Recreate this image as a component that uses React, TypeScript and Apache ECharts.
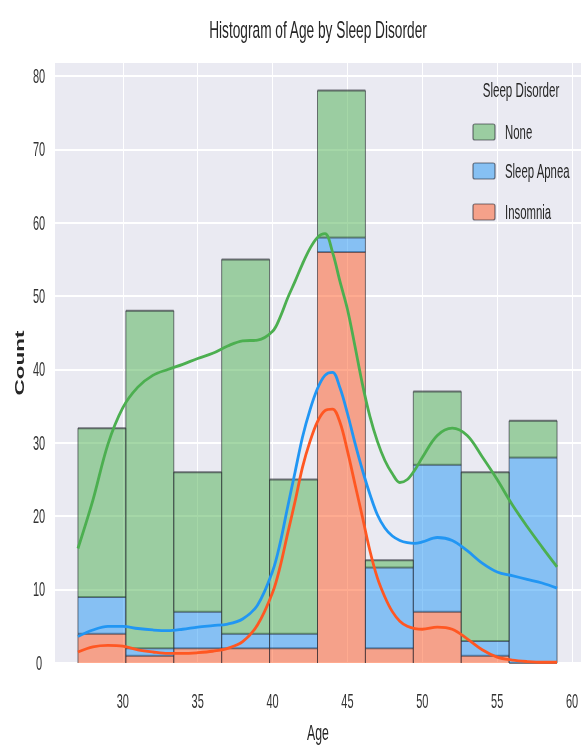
import React, { useEffect, useRef } from "react";
import * as echarts from "echarts";

// ---- data ----
const BIN_EDGES = [27, 30.2, 33.4, 36.6, 39.8, 43, 46.2, 49.4, 52.6, 55.8, 59];
const INSOMNIA = [4, 1, 2, 2, 2, 56, 2, 7, 1, 0];
const SLEEP_APNEA = [5, 1, 5, 2, 2, 2, 11, 20, 2, 28];
const NONE = [23, 46, 19, 51, 21, 20, 1, 10, 23, 5];

const KDE_AGES = [27, 28, 29, 30, 31, 32, 33, 34, 35, 36, 37, 38, 39, 40, 40.5, 41, 41.5, 42, 42.5, 43, 43.5, 44, 44.5, 45, 45.5, 46, 46.5, 47, 47.5, 48, 48.5, 49, 49.5, 50, 51, 52, 53, 54, 55, 56, 57, 58, 59];
// stacked KDE curves (cumulative, as drawn)
const KDE_NONE_TOP = [15.6, 22.2, 29.8, 34.8, 37.6, 39.2, 40.0, 40.7, 41.5, 42.2, 43.2, 43.9, 44.0, 45.2, 47.1, 49.7, 52.0, 54.4, 56.5, 58.0, 58.5, 56.0, 52.0, 48.2, 43.2, 38.0, 33.6, 30.2, 27.6, 25.8, 24.6, 25.0, 26.3, 28.0, 31.0, 32.0, 31.0, 28.1, 25.0, 21.6, 18.6, 15.8, 13.1];
const KDE_APNEA_TOP = [3.6, 4.5, 5.0, 5.0, 4.7, 4.5, 4.4, 4.6, 4.9, 5.1, 5.3, 6.0, 7.9, 12.5, 16.3, 21.2, 26.0, 30.8, 34.5, 37.4, 39.2, 39.6, 37.5, 34.0, 30.0, 26.3, 23.0, 20.2, 18.4, 17.3, 16.7, 16.4, 16.3, 16.5, 17.1, 16.7, 15.3, 13.6, 12.4, 11.9, 11.4, 10.9, 10.2];
const KDE_INSOMNIA = [1.5, 2.2, 2.4, 2.3, 1.8, 1.5, 1.3, 1.3, 1.4, 1.6, 2.0, 2.9, 5.2, 9.6, 13.1, 17.6, 22.0, 26.7, 30.2, 32.9, 34.4, 34.6, 32.8, 28.9, 24.4, 19.9, 15.3, 11.6, 9.0, 7.0, 5.7, 5.0, 4.7, 4.6, 4.9, 4.6, 3.3, 1.8, 0.8, 0.4, 0.2, 0.1, 0.1];

const X_TICKS = [30, 35, 40, 45, 50, 55, 60];
const Y_TICKS = [0, 10, 20, 30, 40, 50, 60, 70, 80];
const LEGEND_LABELS = ["None", "Sleep Apnea", "Insomnia"];

const TITLE = "Histogram of Age by Sleep Disorder";
const X_NAME = "Age";
const Y_NAME = "Count";
const LEGEND_TITLE = "Sleep Disorder";

// ---- styles ----
const FILL_NONE = "rgba(76,175,80,0.5)";
const FILL_APNEA = "rgba(33,150,243,0.5)";
const FILL_INS = "rgba(255,87,34,0.5)";
const LINE_NONE = "#4CAF50";
const LINE_APNEA = "#2196F3";
const LINE_INS = "#FF5722";
const EDGE = "rgba(35,35,45,0.6)";
const FONT = "'Liberation Sans', Arial, sans-serif";
const TEXT = "#262626";
const SY = 1.8; // vertical stretch of text

function stackRows(layers: number[][], idx: number) {
  return BIN_EDGES.slice(0, -1).map((x0, i) => {
    let base = 0;
    for (let k = 0; k < idx; k++) base += layers[k][i];
    return [x0, BIN_EDGES[i + 1], base, base + layers[idx][i]];
  });
}

function makeRender(fill: string) {
  return (params: any, api: any) => {
    const p0 = api.coord([api.value(0), api.value(2)]);
    const p1 = api.coord([api.value(1), api.value(3)]);
    const x = p0[0];
    const y = p1[1];
    const w = p1[0] - p0[0];
    const h = p0[1] - p1[1];
    return {
      type: "group",
      children: [
        { type: "rect", shape: { x, y, width: w, height: h }, style: { fill, stroke: "none" } },
        { type: "line", shape: { x1: x, y1: y, x2: x, y2: y + h }, style: { stroke: EDGE, lineWidth: 1 } },
        { type: "line", shape: { x1: x + w, y1: y, x2: x + w, y2: y + h }, style: { stroke: EDGE, lineWidth: 1 } },
        { type: "line", shape: { x1: x, y1: y, x2: x + w, y2: y }, style: { stroke: EDGE, lineWidth: 2 } },
      ],
    };
  };
}

function txt(text: string, x: number, y: number, size: number, extra: any = {}) {
  return {
    type: "text",
    x,
    y,
    scaleY: SY,
    z: 100,
    style: {
      text,
      fontSize: size,
      fontFamily: FONT,
      fill: TEXT,
      align: "center",
      verticalAlign: "middle",
      ...extra,
    },
  };
}

export default function App() {
  const ref = useRef<HTMLDivElement>(null);
  useEffect(() => {
    if (!ref.current) return;
    const chart = echarts.init(ref.current, null, { renderer: "svg" });
    const layers = [INSOMNIA, SLEEP_APNEA, NONE];
    const kdeData = (arr: number[]) => KDE_AGES.map((a, i) => [a, arr[i]]);
    const lineSeries = (name: string, arr: number[], color: string) => ({
      type: "line",
      name,
      data: kdeData(arr),
      smooth: 0.35,
      showSymbol: false,
      symbol: "none",
      z: 10,
      lineStyle: { color, width: 2.8 },
      silent: true,
    });
    chart.setOption({
      animation: false,
      grid: {
        left: 54,
        right: 0,
        top: 62,
        bottom: 746 - 663,
        show: true,
        backgroundColor: "#EAEAF2",
        borderWidth: 0,
      },
      xAxis: {
        type: "value",
        min: 25.4,
        max: 60.6,
        splitNumber: 7,
        axisLine: { show: false },
        axisTick: { show: false },
        axisLabel: { show: false },
        splitLine: { show: true, lineStyle: { color: "#FFFFFF", width: 1 } },
      },
      yAxis: {
        type: "value",
        min: 0,
        max: 81.9,
        splitNumber: 8,
        axisLine: { show: false },
        axisTick: { show: false },
        axisLabel: { show: false },
        splitLine: { show: true, lineStyle: { color: "#FFFFFF", width: 1.8 } },
      },
      series: [
        { type: "custom", name: "Insomnia", renderItem: makeRender(FILL_INS), data: stackRows(layers, 0), encode: { x: [0, 1], y: [2, 3] }, z: 2 },
        { type: "custom", name: "Sleep Apnea", renderItem: makeRender(FILL_APNEA), data: stackRows(layers, 1), encode: { x: [0, 1], y: [2, 3] }, z: 2 },
        { type: "custom", name: "None", renderItem: makeRender(FILL_NONE), data: stackRows(layers, 2), encode: { x: [0, 1], y: [2, 3] }, z: 2 },
        lineSeries("None KDE", KDE_NONE_TOP, LINE_NONE),
        lineSeries("Sleep Apnea KDE", KDE_APNEA_TOP, LINE_APNEA),
        lineSeries("Insomnia KDE", KDE_INSOMNIA, LINE_INS),
      ],
    });

    const g: any[] = [];
    g.push(txt(TITLE, 318, 29, 13.7));
    X_TICKS.forEach((t) => {
      const p = chart.convertToPixel({ gridIndex: 0 }, [t, 0]) as number[];
      g.push(txt(String(t), p[0], p[1] + 38, 11, { fill: "#333" }));
    });
    Y_TICKS.forEach((t) => {
      const p = chart.convertToPixel({ gridIndex: 0 }, [25.4, t]) as number[];
      g.push(txt(String(t), p[0] - 15, p[1], 11, { fill: "#333" }));
    });
    g.push(txt(X_NAME, 318, 733, 12.3));
    g.push({
      type: "text",
      x: 20,
      y: 363,
      rotation: Math.PI / 2,
      scaleX: SY,
      z: 100,
      style: { text: Y_NAME, fontSize: 12.5, fontWeight: "bold", fontFamily: FONT, fill: TEXT, align: "center", verticalAlign: "middle" },
    });
    // legend
    g.push(txt(LEGEND_TITLE, 521, 90, 11.6));
    const fills = [FILL_NONE, FILL_APNEA, FILL_INS];
    const ys = [132, 171, 212];
    LEGEND_LABELS.forEach((lab, i) => {
      g.push({
        type: "rect",
        z: 100,
        shape: { x: 473, y: ys[i] - 8, width: 22, height: 16, r: 2 },
        style: { fill: fills[i], stroke: EDGE, lineWidth: 1.2 },
      });
      g.push(txt(lab, 505, ys[i], 11.4, { align: "left" }));
    });
    chart.setOption({ graphic: g });
    return () => chart.dispose();
  }, []);
  return <div ref={ref} style={{ position: "fixed", left: 0, top: 0, width: 581, height: 746 }} />;
}
